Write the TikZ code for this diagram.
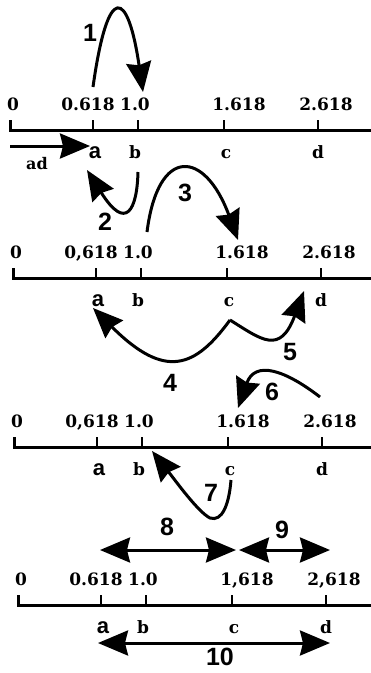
\documentclass[tikz,border=0pt]{standalone}
\usepackage{fontspec}
\setmainfont{DejaVu Serif}
\newfontfamily\stepfont{Liberation Sans}
\usetikzlibrary{arrows.meta}

\tikzset{
  axisline/.style={line width=3pt},
  tickmark/.style={line width=2.4pt},
  ticklabel/.style={font=\fontsize{17}{17}\selectfont\bfseries, inner sep=0pt, anchor=base},
  ptletter/.style={font=\fontsize{17}{17}\selectfont\bfseries, inner sep=0pt, anchor=base},
  sansletter/.style={font=\stepfont\fontsize{22}{22}\selectfont\bfseries, inner sep=0pt, anchor=base},
  steplabel/.style={font=\stepfont\fontsize{25}{25}\selectfont\bfseries, inner sep=0pt},
  movearrow/.style={line width=3pt, -{Stealth[length=30pt, width=25pt, inset=3pt]}},
  spanarrow/.style={line width=3pt, {Stealth[length=30pt, width=25pt, inset=3pt]}-{Stealth[length=30pt, width=25pt, inset=3pt]}}
}

\begin{document}
\begin{tikzpicture}[x=1pt, y=-1pt]
  \useasboundingbox (0,0) rectangle (371,673);

  % the four scales
  \foreach \n/\ox/\oy/\ta/\tc/\td in {1/10/130/0.618/1.618/2.618, 2/13/278/{0,618}/1.618/2.618,
                                       3/14/447/{0,618}/1.618/2.618, 4/18/605/0.618/{1,618}/{2,618}}{
    \begin{scope}[shift={(\ox,\oy)}]
      \coordinate (o\n) at (0,0);
      \coordinate (a\n) at (83,0);
      \coordinate (b\n) at (128,0);
      \coordinate (c\n) at (214,0);
      \coordinate (d\n) at (308,0);
      \draw[axisline] (0,-10) -- (o\n) -- (371-\ox,0);
      \foreach \p in {a,b,c,d}
        \draw[tickmark] (\p\n) -- ++(0,-10);
      \node[ticklabel] (n0\n) at (3,-20) {0};
      \node[ticklabel] (na\n) at (78,-20) {\ta};
      \node[ticklabel] (nb\n) at (125,-20) {1.0};
      \node[ticklabel] (nc\n) at (229,-20) {\tc};
      \node[ticklabel] (nd\n) at (316,-20) {\td};
      \node[sansletter] (la\n) at (85,28) {a};
      \node[ptletter] (lb\n) at (125,28) {b};
      \node[ptletter] (lc\n) at (216,28) {c};
      \node[ptletter] (ld\n) at (308,28) {d};
    \end{scope}
  }

  % end points of the moves
  \coordinate (sad) at (10,146);
  \coordinate (ead) at (90,146);
  \coordinate (s1) at (93,87);
  \coordinate (e1) at (143,92);
  \coordinate (s2) at (138,172);
  \coordinate (e2) at (87,170);
  \coordinate (s3) at (147,232);
  \coordinate (e3) at (238,240);
  \coordinate (s45) at (230,320);
  \coordinate (e4) at (93,308);
  \coordinate (e5) at (304,291);
  \coordinate (s6) at (320,397);
  \coordinate (e6) at (238,408);
  \coordinate (s7) at (231,480);
  \coordinate (e7) at (152,451);
  \coordinate (l8) at (100,550);
  \coordinate (r8) at (236,550);
  \coordinate (l9) at (239,550);
  \coordinate (r9) at (330,550);
  \coordinate (l10) at (98,643);
  \coordinate (r10) at (330,643);

  \draw[movearrow] (sad) -- (ead);
  \node[font=\fontsize{16}{16}\selectfont\bfseries, inner sep=0pt] (adl) at (37,164) {ad};

  \draw[movearrow] (s1) .. controls (108,-20) and (128,-10) .. (e1);
  \draw[movearrow] (s2) .. controls (137,210) and (126,232) .. (e2);
  \draw[movearrow] (s3) .. controls (158,145) and (205,150) .. (e3);
  \draw[movearrow] (s45) .. controls (195,368) and (165,380) .. (e4);
  \draw[movearrow] (s45) .. controls (262,340) and (280,355) .. (e5);
  \draw[movearrow] (s6) .. controls (285,370) and (255,360) .. (e6);
  \draw[movearrow] (s7) .. controls (229,505) and (222,522) .. (210,518)
                        .. controls (198,512) and (175,480) .. (e7);
  \draw[spanarrow] (l8) -- (r8);
  \draw[spanarrow] (l9) -- (r9);
  \draw[spanarrow] (l10) -- (r10);

  \node[steplabel] (k1) at (90,33) {1};
  \node[steplabel] (k2) at (105,222) {2};
  \node[steplabel] (k3) at (185,193) {3};
  \node[steplabel] (k4) at (170,383) {4};
  \node[steplabel] (k5) at (290,352) {5};
  \node[steplabel] (k6) at (272,392) {6};
  \node[steplabel] (k7) at (211,493) {7};
  \node[steplabel] (k8) at (167,527) {8};
  \node[steplabel] (k9) at (282,530) {9};
  \node[steplabel] (k10) at (220,657) {10};
\end{tikzpicture}
\end{document}
